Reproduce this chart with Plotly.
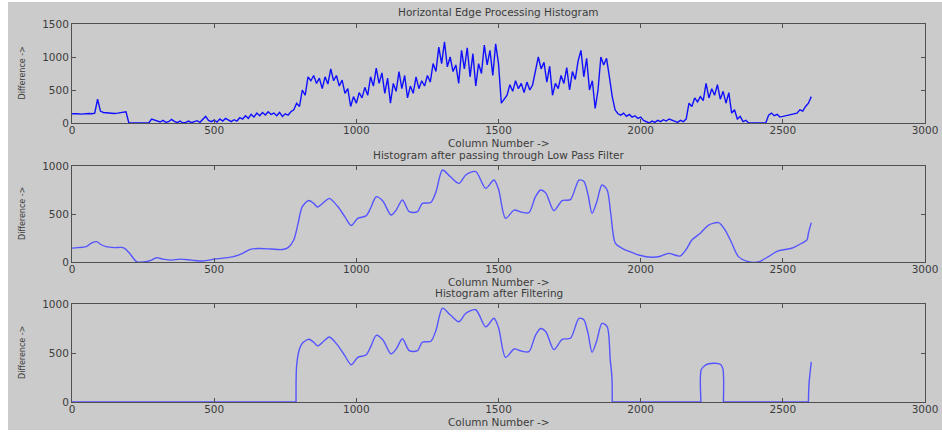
import plotly.graph_objects as go

# ---------------- data ----------------
# Panel 1: raw horizontal edge histogram, sampled every 10 columns (0..2600)
hist_step = 10
hist_vals = [
    140, 145, 140, 135, 140, 140, 145, 140, 150, 360,      # 0-90
    180, 160, 155, 150, 150, 145, 150, 160, 165, 170,      # 100-190
    0, 0, 0, 0, 0, 0, 0, 0, 60, 45,                         # 200-290
    30, 15, 40, 10, 20, 55, 25, 5, 30, 0,                   # 300-390
    10, 30, 5, 20, 35, 10, 60, 100, 40, 20,                 # 400-490
    45, 15, 60, 30, 70, 40, 20, 50, 30, 80,                 # 500-590
    60, 110, 70, 130, 90, 150, 110, 160, 120, 170,          # 600-690
    130, 150, 110, 160, 100, 140, 120, 170, 200, 300,       # 700-790
    250, 500, 420, 700, 640, 720, 600, 680, 520, 700,       # 800-890
    590, 820, 640, 720, 560, 650, 450, 520, 250, 400,       # 900-990
    300, 460, 380, 540, 420, 700, 560, 830, 600, 760,       # 1000-1090
    450, 680, 300, 600, 480, 780, 520, 720, 380, 560,       # 1100-1190
    450, 700, 520, 640, 560, 720, 620, 900, 780, 1150,      # 1200-1290
    900, 1230, 850, 1000, 780, 880, 600, 1100, 820, 1140,   # 1300-1390
    700, 1050, 560, 900, 750, 1180, 880, 1100, 720, 1200,   # 1400-1490
    900, 300, 360, 420, 580, 480, 640, 520, 600, 460,       # 1500-1590
    620, 500, 580, 780, 1000, 820, 920, 620, 860, 420,      # 1600-1690
    600, 520, 720, 600, 840, 500, 780, 660, 940, 1100,      # 1700-1790
    700, 980, 500, 640, 220, 500, 1000, 880, 980, 700,      # 1800-1890
    400, 200, 140, 120, 150, 100, 130, 90, 110, 70,         # 1900-1990
    90, 40, 20, 0, 30, 10, 40, 20, 50, 30,                  # 2000-2090
    60, 40, 30, 10, 40, 20, 60, 300, 250, 380,              # 2100-2190
    320, 400, 340, 600, 380, 520, 420, 580, 360, 480,       # 2200-2290
    300, 460, 150, 200, 60, 100, 20, 40, 0, 0,              # 2300-2390
    0, 0, 0, 0, 0, 120, 150, 110, 130, 90,                  # 2400-2490
    100, 110, 120, 130, 140, 150, 200, 180, 250, 300,       # 2500-2590
    400,                                                    # 2600
]
hist_cols = [i * hist_step for i in range(len(hist_vals))]

# Panel 2: after low pass filter
lpf_cols = [0, 20, 50, 70, 87, 100, 120, 150, 180, 200, 227, 250, 280, 297, 320,
            350, 380, 420, 460, 500, 530, 568, 600, 627, 660, 700, 740, 760, 780,
            795, 810, 833, 850, 864, 885, 905, 934, 960, 982, 1005, 1034, 1050,
            1070, 1093, 1122, 1140, 1162, 1186, 1215, 1232, 1262, 1280, 1303,
            1330, 1361, 1385, 1420, 1455, 1484, 1500, 1525, 1555, 1580, 1607,
            1630, 1648, 1666, 1695, 1724, 1753, 1783, 1800, 1815, 1829, 1845,
            1864, 1882, 1895, 1911, 1935, 1960, 1993, 2040, 2070, 2098, 2139,
            2160, 2180, 2210, 2239, 2274, 2297, 2320, 2344, 2379, 2414, 2449,
            2484, 2531, 2566, 2585, 2590, 2600]
lpf_vals = [145, 150, 160, 200, 212, 185, 160, 150, 150, 100, 5, 0, 20, 45, 30,
            20, 30, 20, 10, 30, 40, 56, 90, 132, 140, 135, 130, 150, 229,
            400, 576, 640, 610, 573, 620, 663, 580, 470, 380, 455, 480, 560,
            680, 635, 490, 540, 646, 524, 524, 610, 620, 730, 958,
            890, 819, 906, 941, 767, 854, 760, 455, 541, 520, 514,
            680, 750, 720, 535, 640, 650, 854, 840, 700, 507, 620,
            802, 750, 500, 194, 143, 110, 73, 49, 60, 90, 62,
            130, 229, 300, 385, 410, 333, 200, 56, 3, 0, 56,
            115, 143, 195, 230, 300, 410]

# Panel 3: after filtering (None separates drawn pieces)
filt_cols = [0, 788, None,
             788, 790, 800, 810, 833, 850, 864, 885, 905, 934, 960, 982, 1005,
             1034, 1050, 1070, 1093, 1122, 1140, 1162, 1186, 1215, 1232, 1262,
             1280, 1303, 1330, 1361, 1385, 1420, 1455, 1484, 1500, 1525, 1555,
             1580, 1607, 1630, 1648, 1666, 1695, 1724, 1753, 1783, 1800, 1815,
             1829, 1845, 1864, 1882, 1893, 1899, 1900, None,
             1900, 2212, None,
             2212, 2213, 2225, 2240, 2260, 2280, 2289, 2291, None,
             2291, 2590, None,
             2590, 2592, 2600]
filt_vals = [0, 0, None,
             0, 370, 540, 600, 640, 610, 573, 620, 663, 580, 470, 380, 455,
             480, 560, 680, 635, 490, 540, 646, 524, 524, 610, 620,
             730, 958, 890, 819, 906, 941, 767, 854, 760, 455, 541,
             520, 514, 680, 750, 720, 535, 640, 650, 854, 840, 700,
             507, 620, 802, 770, 430, 250, 0, None,
             0, 0, None,
             0, 330, 370, 390, 395, 385, 340, 0, None,
             0, 0, None,
             0, 180, 410]

titles = ["Horizontal Edge Processing Histogram",
          "Histogram after passing through Low Pass Filter",
          "Histogram after Filtering"]
x_label = "Column Number ->"
y_label = "Difference ->"
x_ticks = [0, 500, 1000, 1500, 2000, 2500, 3000]
y_ticks_top = [0, 500, 1000, 1500]
y_ticks_low = [0, 500, 1000]

# ---------------- layout geometry (pixels) ----------------
W, H = 942, 433
X0, X1 = 72, 925
panels = [(24, 123), (166, 262), (304, 402)]   # (top, bottom) in px


def px(x):
    return x / W


def py(y):
    return 1 - y / H


FONT = "DejaVu Sans, Verdana, sans-serif"
TXT = "#3c3c3c"
AX = "#505050"

fig = go.Figure()

fig.add_trace(go.Scatter(x=hist_cols, y=hist_vals, mode="lines",
                         line=dict(color="#1010ff", width=1.4),
                         xaxis="x", yaxis="y", showlegend=False))
fig.add_trace(go.Scatter(x=lpf_cols, y=lpf_vals, mode="lines",
                         line=dict(color="#5555ff", width=1.4, shape="spline",
                                   smoothing=0.8),
                         xaxis="x2", yaxis="y2", showlegend=False))
fig.add_trace(go.Scatter(x=filt_cols, y=filt_vals, mode="lines",
                         line=dict(color="#5555ff", width=1.4, shape="spline",
                                   smoothing=0.8),
                         connectgaps=False,
                         xaxis="x3", yaxis="y3", showlegend=False))

common_x = dict(range=[0, 3000], tickvals=x_ticks, ticktext=[str(v) for v in x_ticks],
                ticks="inside", ticklen=4, tickcolor=AX, showline=True, linecolor=AX,
                linewidth=1, mirror="allticks", showgrid=False, zeroline=False,
                automargin=False, ticklabelstandoff=-3,
                tickfont=dict(family=FONT, size=10.5, color=TXT), fixedrange=True)
common_y = dict(ticks="inside", ticklen=4, tickcolor=AX, showline=True, linecolor=AX,
                linewidth=1, mirror="allticks", showgrid=False, zeroline=False,
                automargin=False,
                tickfont=dict(family=FONT, size=10.5, color=TXT), fixedrange=True)

layout = dict(
    template="none",
    width=W, height=H,
    margin=dict(l=0, r=0, t=0, b=0, pad=0),
    paper_bgcolor="white",
    plot_bgcolor="white",
    showlegend=False,
    shapes=[dict(type="rect", xref="paper", yref="paper",
                 x0=px(8), x1=1, y0=py(430), y1=py(2),
                 fillcolor="#cbcbcb", line=dict(width=0), layer="below")],
    annotations=[],
)
names = ["", "2", "3"]
for i, (top, bot) in enumerate(panels):
    n = names[i]
    xa = dict(common_x, domain=[px(X0), px(X1)], anchor="y" + n)
    if i == 0:
        ya = dict(common_y, range=[0, 1500], tickvals=y_ticks_top,
                  ticktext=[str(v) for v in y_ticks_top])
    else:
        ya = dict(common_y, range=[0, 1000], tickvals=y_ticks_low,
                  ticktext=[str(v) for v in y_ticks_low])
    ya.update(domain=[py(bot), py(top)], anchor="x" + n)
    layout["xaxis" + n] = xa
    layout["yaxis" + n] = ya
    # title
    layout["annotations"].append(dict(
        text=titles[i], x=px((X0 + X1) / 2), y=py(top - 11.5), xref="paper", yref="paper",
        showarrow=False, xanchor="center", yanchor="middle", borderpad=0,
        font=dict(family=FONT, size=10.5, color=TXT)))
    # x label
    layout["annotations"].append(dict(
        text=x_label, x=px((X0 + X1) / 2), y=py(bot + 19.5), xref="paper", yref="paper",
        showarrow=False, xanchor="center", yanchor="middle", borderpad=0,
        font=dict(family=FONT, size=10.5, color=TXT)))
    # y label
    layout["annotations"].append(dict(
        text=y_label, x=px(22), y=py((top + bot) / 2), xref="paper", yref="paper",
        showarrow=False, xanchor="center", yanchor="middle", textangle=-90,
        font=dict(family=FONT, size=8, color=TXT)))

fig.update_layout(**layout)
fig.write_html("out.html", post_script="document.body.style.margin='0';",
               config={"displayModeBar": False})
